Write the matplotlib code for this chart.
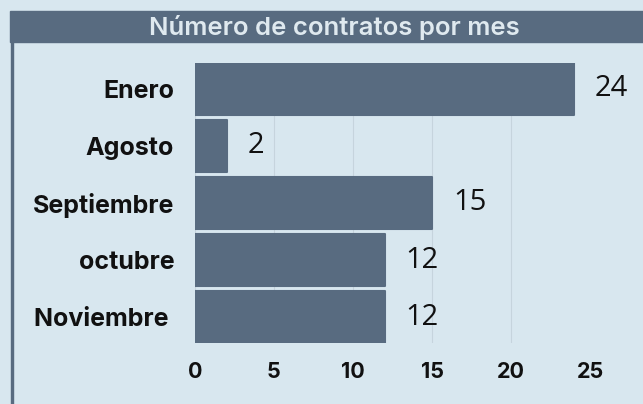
import matplotlib.pyplot as plt
from matplotlib.patches import Rectangle

# datos
meses = ['Enero', 'Agosto', 'Septiembre', 'octubre', 'Noviembre ']
contratos = [24, 2, 15, 12, 12]
ticks_x = [0, 5, 10, 15, 20, 25]
titulo = 'Número de contratos por mes'

fondo = '#d8e7ef'
azul = '#586b80'

fig = plt.figure(figsize=(6.43, 4.04), dpi=100, facecolor=fondo)

# barra del título y línea izquierda
fig.patches.append(Rectangle((10 / 643, 1 - 42 / 404), 1, 31 / 404,
                             transform=fig.transFigure, color=azul, zorder=0))
fig.patches.append(Rectangle((11 / 643, 0), 2 / 643, 1 - 42 / 404,
                             transform=fig.transFigure, color=azul, zorder=0))
fig.text(334 / 643, 1 - 27 / 404, titulo, ha='center', va='center',
         color='#dfe9ef', fontsize=18.5, fontweight='semibold', family='Inter')

ax = fig.add_axes([195 / 643, 61 / 404, 395 / 643, 280 / 404])
ax.set_facecolor(fondo)

pos = range(len(meses))
barras = ax.barh(pos, contratos, height=0.91, color=azul, edgecolor=azul,
                 linewidth=1.5, joinstyle='round', zorder=2)
ax.set_ylim(len(meses) - 0.544, -0.456)
ax.set_xlim(0, 25)

ax.set_xticks(ticks_x)
ax.set_yticks(list(pos))
ax.set_yticklabels(meses)
ax.tick_params(axis='both', length=0)
ax.tick_params(axis='x', pad=14)
ax.tick_params(axis='y', pad=15)
for lbl in ax.get_yticklabels():
    lbl.set_family('Inter')
    lbl.set_fontweight('bold')
    lbl.set_fontsize(18)
    lbl.set_color('#111111')
for lbl in ax.get_xticklabels():
    lbl.set_family('Inter')
    lbl.set_fontweight('bold')
    lbl.set_fontsize(15.5)
    lbl.set_color('#111111')

ax.grid(axis='x', color='#c6d4dd', linewidth=0.8, zorder=1)
ax.set_axisbelow(True)
ax.get_xgridlines()[-1].set_visible(False)
for s in ax.spines.values():
    s.set_visible(False)

ax.bar_label(barras, padding=15, fontsize=21, family='Open Sans', color='#111111')

fig.savefig('out.png', facecolor=fondo)
